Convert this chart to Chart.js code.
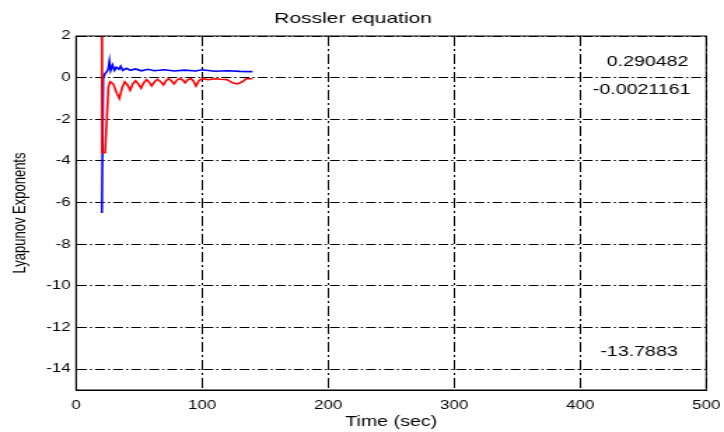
<!DOCTYPE html>
<html>
<head>
<meta charset="utf-8">
<script src="https://cdn.jsdelivr.net/npm/chart.js@4/dist/chart.umd.min.js"></script>
<style>
  html, body { margin: 0; padding: 0; background: #fff; }
</style>
</head>
<body>
<!-- the source figure is stretched sideways, so draw narrow and stretch -->
<canvas id="lyap" width="517" height="432" style="display:block;width:724px;height:432px"></canvas>
<script>
// data
const redTime = [20.5, 20.7, 23, 24.3, 25.7, 27, 29.5, 32, 34.4, 36.5,
  38.6, 40.8, 42.9, 45, 47.2, 49.4, 51.6, 53.7, 55.8, 58,
  60, 62.3, 64.6, 67, 69.3, 71.4, 73.5, 75.6, 77.8, 80,
  82, 84.3, 86.5, 88.7, 91, 93, 95.2, 97.5, 100, 105,
  110, 115, 120, 124, 128, 132, 135, 140];
const redValues = [2.5, -3.6, -3.6, -2.1, -0.44, -0.2, -0.3, -0.7, -1.0, -0.5,
  -0.2, -0.35, -0.6, -0.3, -0.15, -0.3, -0.5, -0.25, -0.1, -0.22,
  -0.4, -0.2, -0.08, -0.18, -0.35, -0.15, -0.05, -0.15, -0.3, -0.12,
  -0.05, -0.1, -0.25, -0.1, -0.05, -0.15, -0.4, -0.15, -0.05, -0.1,
  -0.05, -0.08, -0.1, -0.25, -0.3, -0.2, -0.05, -0.05];

const blueTime = [20.5, 21.5, 23, 24.5, 25.5, 26.5, 27.5, 29, 30.5, 32,
  34, 35.5, 37, 40, 43, 47, 52, 57, 62, 70,
  78, 86, 95, 100, 110, 120, 130, 140];
const blueValues = [-6.5, 0.0, 0.2, 0.3, 0.4, 0.8, 0.35, 0.6, 0.35, 0.5,
  0.4, 0.55, 0.35, 0.45, 0.35, 0.42, 0.33, 0.4, 0.33, 0.38,
  0.32, 0.36, 0.32, 0.38, 0.31, 0.33, 0.3, 0.29];

const xTicks = [0, 100, 200, 300, 400, 500];
const yTicks = [2, 0, -2, -4, -6, -8, -10, -12, -14];
const finalExponents = ["0.290482", "-0.0021161", "-13.7883"];

const FONT = "'Liberation Sans', Arial, sans-serif";

const toPoints = (ts, vs) => ts.map((t, i) => ({ x: t, y: vs[i] }));

// box around the axes + the final exponent values on the right
const framePlugin = {
  id: "frame",
  afterDraw(chart) {
    const { ctx, chartArea: a, scales } = chart;
    ctx.save();
    ctx.strokeStyle = "#000";
    ctx.lineWidth = 1;
    ctx.strokeRect(a.left, a.top, a.right - a.left, a.bottom - a.top);

    ctx.fillStyle = "#000";
    ctx.font = "14px " + FONT;
    ctx.textAlign = "left";
    ctx.textBaseline = "middle";
    const spots = [[421, 0.76], [410, -0.6], [416, -13.18]];
    finalExponents.forEach((txt, i) => {
      ctx.fillText(txt, scales.x.getPixelForValue(spots[i][0]),
        scales.y.getPixelForValue(spots[i][1]));
    });
    ctx.restore();
  }
};

new Chart(document.getElementById("lyap"), {
  type: "line",
  data: {
    datasets: [
      {
        data: toPoints(redTime, redValues),
        borderColor: "#ff0000",
        borderWidth: 1.6,
        pointRadius: 0,
        tension: 0
      },
      {
        data: toPoints(blueTime, blueValues),
        borderColor: "#0000ff",
        borderWidth: 1.6,
        pointRadius: 0,
        tension: 0
      }
    ]
  },
  options: {
    responsive: false,
    devicePixelRatio: 1,
    animation: false,
    layout: { padding: { left: 0, right: 12.7, top: 0, bottom: 0 } },
    plugins: {
      legend: { display: false },
      tooltip: { enabled: false },
      title: {
        display: true,
        text: "Rossler equation",
        color: "#000",
        font: { family: FONT, size: 15, weight: "normal" },
        padding: { top: 9.5, bottom: 8.5 }
      }
    },
    scales: {
      x: {
        type: "linear",
        min: 0,
        max: 500,
        afterBuildTicks: s => { s.ticks = xTicks.map(v => ({ value: v })); },
        afterFit: s => { s.height = 42; s.paddingLeft = 0; s.paddingRight = 0; },
        ticks: {
          color: "#000",
          padding: 8,
          maxRotation: 0,
          font: { family: FONT, size: 12 }
        },
        grid: { color: "#000", lineWidth: 1, drawTicks: false },
        border: { color: "#000", dash: [10, 3, 2, 3] },
        title: {
          display: true,
          text: "Time (sec)",
          color: "#000",
          font: { family: FONT, size: 14 },
          padding: { top: 0, bottom: 1 }
        }
      },
      y: {
        min: -15,
        max: 2,
        afterBuildTicks: s => { s.ticks = yTicks.map(v => ({ value: v })); },
        afterFit: s => { s.width = 54.3; },
        ticks: {
          color: "#000",
          padding: 4,
          font: { family: FONT, size: 12 }
        },
        grid: { color: "#000", lineWidth: 1, drawTicks: false },
        border: { color: "#000", dash: [7, 2.2, 1.5, 2.2] },
        title: {
          display: true,
          text: "Lyapunov Exponents",
          color: "#000",
          font: { family: FONT, size: 13 },
          padding: { top: 6.5, bottom: 0 }
        }
      }
    }
  },
  plugins: [framePlugin]
});
</script>
</body>
</html>
